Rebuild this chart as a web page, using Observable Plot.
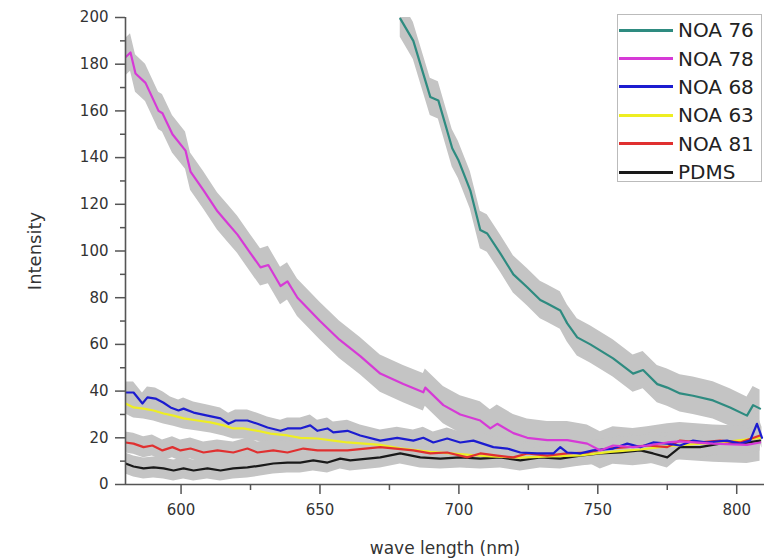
<!DOCTYPE html>
<html>
<head>
<meta charset="utf-8">
<script src="https://cdn.jsdelivr.net/npm/d3@7"></script>
<script src="https://cdn.jsdelivr.net/npm/@observablehq/plot@0.6"></script>
<style>
  body { margin: 0; background: white; }
  #wrap { position: relative; width: 771px; height: 560px; font-family: "DejaVu Sans", sans-serif; }
  #legend { position: absolute; left: 617px; top: 14px; width: 145px; height: 168px; border: 1px solid #bbb; background: white; box-sizing: border-box; padding-top: 1px; }
  .lrow { height: 28.4px; display: flex; align-items: center; }
  .sw { width: 54px; height: 3px; margin-left: 1px; margin-right: 5px; }
  .lt { font-size: 20px; color: #222; line-height: 1; }
</style>
</head>
<body>
<div id="wrap"><div id="legend"></div></div>
<script>
// ---- data ----
const seriesNames = ["NOA 76", "NOA 78", "NOA 68", "NOA 63", "NOA 81", "PDMS"];
const seriesColors = ["#2e8b80", "#d63ad6", "#1c1cd0", "#eeee22", "#e03030", "#1a1a1a"];
const seriesErr = [8, 8, 4.5, 4.5, 4.5, 4.5];

const noa76_nm = [678.9, 683.6, 689.7, 692.6, 697.6, 699.8, 704.1, 707.7, 710.2, 714.9, 719.6, 724.6, 729.3, 731.8, 736.5, 739.0, 742.6, 747.3, 755.5, 762.7, 766.3, 771.4, 775.0, 779.6, 784.3, 791.5, 797.6, 803.7, 805.9, 808.4];
const noa76_val = [199.5, 190, 166, 164.5, 144, 139, 126, 109, 107.5, 99, 90, 84.5, 79, 77.5, 74.5, 69, 63, 60, 54, 47.5, 49, 43, 41.5, 39, 38, 36, 33, 29.5, 34, 32.5];

const noa78_nm = [580.0, 581.8, 583.6, 587.2, 591.9, 593.3, 596.9, 601.6, 603.4, 608.1, 613.1, 616.7, 620.3, 625.0, 628.6, 631.4, 635.8, 638.3, 641.9, 650.0, 657.0, 664.5, 671.7, 680.0, 687.2, 687.9, 694.4, 700.5, 707.7, 711.3, 713.8, 719.6, 724.6, 731.8, 739.0, 746.2, 750.9, 755.5, 762.7, 767.8, 775.0, 779.6, 791.5, 803.7, 808.4];
const noa78_val = [183, 185, 176, 172, 160, 159, 150, 143, 134, 126, 117, 112, 107, 99, 93, 94, 85, 87, 80, 70, 62, 55, 47.5, 43, 39.5, 41.5, 34, 30, 27.4, 24, 26, 22, 20, 19, 19, 17.5, 14.6, 16.7, 16, 16.7, 18, 18.5, 17.5, 17, 18];

const noa68_nm = [580.0, 582.9, 586.1, 587.9, 590.8, 593.7, 596.2, 599.1, 600.9, 604.5, 609.5, 614.2, 617.1, 619.6, 623.9, 627.5, 631.1, 635.8, 638.3, 642.9, 646.5, 649.1, 652.7, 654.8, 659.9, 664.5, 671.7, 677.8, 683.6, 687.2, 690.8, 695.8, 700.5, 705.2, 712.4, 717.4, 722.1, 728.2, 734.0, 736.5, 739.0, 743.7, 748.3, 755.5, 760.6, 765.3, 769.9, 775.0, 779.6, 784.3, 789.4, 796.5, 801.2, 804.8, 807.3, 809.1];
const noa68_val = [39.4, 39.4, 34.7, 37.3, 36.8, 35, 33, 31.7, 32.5, 30.8, 29.5, 28.3, 26, 27.4, 27.4, 26, 24.4, 23, 24, 24, 25.3, 23, 24, 22.3, 23, 21, 18.8, 20, 18.8, 20, 18, 19.7, 18, 18.8, 16, 15.4, 13.7, 13.3, 13.3, 16, 13.7, 13.3, 14.6, 15.4, 17.5, 16, 18, 17.5, 16.7, 18.8, 18, 18.8, 17.5, 18.8, 26, 20];

const noa63_nm = [580.0, 582.9, 586.5, 590.1, 593.7, 597.3, 600.9, 605.9, 610.6, 615.3, 618.8, 622.4, 627.5, 632.2, 638.3, 642.9, 649.1, 654.8, 659.9, 671.7, 678.9, 689.7, 700.5, 711.3, 722.1, 732.9, 743.7, 754.5, 765.3, 776.1, 786.8, 797.6, 808.4];
const noa63_val = [34.7, 33, 32.5, 31.7, 30.4, 29.5, 28.3, 27.4, 26.6, 25.3, 24, 24, 23, 21.8, 21, 20, 19.7, 18.8, 18, 17, 15.5, 14, 13, 12, 11.5, 12, 12.5, 14, 15, 16.5, 17.5, 18.5, 20];

const noa81_nm = [580.0, 582.9, 586.5, 589.7, 593.3, 596.9, 599.8, 603.4, 608.1, 613.1, 618.8, 623.9, 627.5, 633.2, 638.3, 644.0, 649.1, 654.8, 659.9, 671.7, 683.6, 689.7, 695.8, 703.0, 707.7, 713.8, 719.6, 724.6, 731.8, 739.0, 746.2, 753.4, 760.6, 767.8, 775.0, 779.6, 786.8, 794.0, 801.2, 808.4];
const noa81_val = [18, 17.5, 16, 16.7, 14.6, 16, 14.6, 15.4, 13.7, 14.6, 13.7, 15.4, 13.7, 14.6, 13.7, 15.4, 14.6, 14.6, 14.6, 16, 14.6, 13.3, 13.7, 11.6, 13.3, 12.4, 11.6, 13.3, 12.4, 13.3, 13.7, 15.4, 16, 16.7, 16, 18.8, 18, 18.8, 18, 21];

const pdms_nm = [580.0, 582.9, 586.5, 590.1, 593.7, 597.3, 600.9, 604.5, 609.5, 614.2, 618.8, 623.9, 628.6, 633.2, 638.3, 642.9, 647.6, 652.7, 657.3, 660.9, 671.7, 678.9, 686.1, 693.3, 700.5, 707.7, 714.9, 722.1, 729.3, 736.5, 743.7, 750.9, 758.1, 765.3, 769.9, 775.0, 779.6, 786.8, 794.0, 801.2, 808.4];
const pdms_val = [9, 7.7, 6.9, 7.3, 6.9, 6, 6.9, 6, 6.9, 6, 6.9, 7.3, 8.1, 9, 9.4, 9.4, 10.3, 9.4, 11.1, 10.3, 11.6, 13.3, 11.6, 11.1, 11.6, 11.1, 11.6, 10.3, 11.6, 11.1, 12.4, 13.3, 13.7, 14.6, 13.3, 11.6, 16, 16, 17.5, 17.5, 18.8];

const xDomain = [580, 810];
const yDomain = [0, 200];
const xTicks = [600, 650, 700, 750, 800];
const xMinorTicks = [625, 675, 725, 775];
const yTicks = [0, 20, 40, 60, 80, 100, 120, 140, 160, 180, 200];
const yMinorTicks = [10, 30, 50, 70, 90, 110, 130, 150, 170, 190];
const xTitle = "wave length (nm)";
const yTitle = "Intensity";

// ---- build table ----
const seriesX = [noa76_nm, noa78_nm, noa68_nm, noa63_nm, noa81_nm, pdms_nm];
const seriesY = [noa76_val, noa78_val, noa68_val, noa63_val, noa81_val, pdms_val];
const rows = seriesNames.flatMap((name, i) =>
  seriesX[i].map((x, j) => ({name, x, y: seriesY[i][j], lo: seriesY[i][j] - seriesErr[i], hi: seriesY[i][j] + seriesErr[i]}))
);
const lineOrder = [5, 3, 4, 2, 1, 0].map(i => seriesNames[i]);
const lineRows = lineOrder.flatMap(n => rows.filter(r => r.name === n));

const axisColor = "#555";
const chart = Plot.plot({
  width: 771,
  height: 560,
  marginLeft: 125,
  marginRight: 7,
  marginTop: 17,
  marginBottom: 76,
  style: {fontFamily: "DejaVu Sans, sans-serif", fontSize: "15px", color: "#333", background: "white"},
  x: {domain: xDomain},
  y: {domain: yDomain},
  color: {domain: seriesNames, range: seriesColors},
  marks: [
    Plot.areaY(rows, {x: "x", y1: "lo", y2: "hi", z: "name", fill: "#c4c4c4", curve: "linear", clip: true}),
    Plot.line(lineRows, {x: "x", y: "y", z: "name", stroke: "name", strokeWidth: 2.2, clip: true}),
    Plot.ruleX([xDomain[0]], {stroke: axisColor, strokeWidth: 1.6}),
    Plot.ruleY([yDomain[0]], {stroke: axisColor, strokeWidth: 1.6}),
    Plot.axisY(yTicks, {tickSize: 10, tickPadding: 7, stroke: axisColor, strokeWidth: 1.5, label: null}),
    Plot.axisY(yMinorTicks, {tickSize: 5, tickFormat: () => "", stroke: axisColor, strokeWidth: 1.5, label: null}),
    Plot.axisX(xTicks, {tickSize: 10, tickPadding: 10, stroke: axisColor, strokeWidth: 1.5, label: null}),
    Plot.axisX(xMinorTicks, {tickSize: 6, tickFormat: () => "", stroke: axisColor, strokeWidth: 1.5, label: null}),
    Plot.text([xTitle], {frameAnchor: "bottom", dy: 64, lineAnchor: "middle", textAnchor: "middle", text: d => d, fontSize: 17, fill: "#333"}),
    Plot.text([yTitle], {frameAnchor: "left", dx: -90, rotate: -90, textAnchor: "middle", lineAnchor: "middle", text: d => d, fontSize: 18, fill: "#333"})
  ]
});
document.getElementById("wrap").prepend(chart);

// legend
const legend = document.getElementById("legend");
seriesNames.forEach((name, i) => {
  const row = document.createElement("div");
  row.className = "lrow";
  row.innerHTML = `<div class="sw" style="background:${seriesColors[i]}"></div><span class="lt">${name}</span>`;
  legend.appendChild(row);
});
</script>
</body>
</html>
